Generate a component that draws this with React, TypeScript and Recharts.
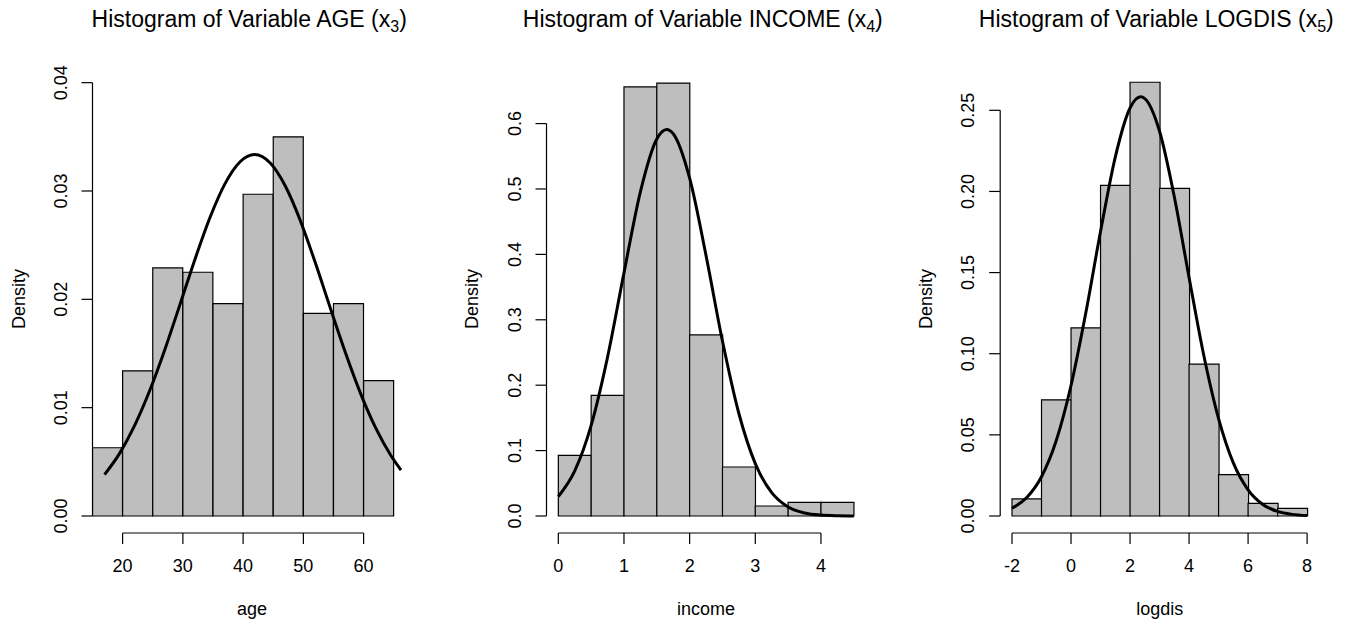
import React from 'react';
import { ComposedChart, Bar, Line, XAxis, YAxis, ReferenceLine } from 'recharts';

const FONT = '"Liberation Sans", Arial, Helvetica, sans-serif';

// ---- AGE (x3) ----
const ageBreaks = [15, 20, 25, 30, 35, 40, 45, 50, 55, 60, 65];
const ageDensity = [0.0063, 0.0134, 0.0229, 0.0225, 0.0196, 0.0297, 0.035, 0.0187, 0.0196, 0.0125];
const ageCurveX = [17, 19.5, 22, 24.5, 27, 29.5, 32, 34.5, 37, 39.5, 41.9, 44.5, 47, 49.5, 52, 54.5, 57, 59.5, 62, 64.5, 66.2];
const ageCurveY = [0.00382, 0.00578, 0.00836, 0.01158, 0.01535, 0.01949, 0.02368, 0.02755, 0.03068, 0.0327, 0.03336, 0.03258, 0.03046, 0.02726, 0.02335, 0.01915, 0.01504, 0.0113, 0.00813, 0.0056, 0.00424];
const ageXTicks = [20, 30, 40, 50, 60];
const ageXTickLabels = ['20', '30', '40', '50', '60'];
const ageYTicks = [0, 0.01, 0.02, 0.03, 0.04];
const ageYTickLabels = ['0.00', '0.01', '0.02', '0.03', '0.04'];

// ---- INCOME (x4) ----
const incomeBreaks = [0, 0.5, 1, 1.5, 2, 2.5, 3, 3.5, 4, 4.5];
const incomeDensity = [0.0928, 0.1845, 0.656, 0.662, 0.2768, 0.0749, 0.0153, 0.0209, 0.0209];
const incomeCurveX = [0, 0.25, 0.5, 0.75, 1, 1.25, 1.5, 1.65, 1.75, 2, 2.25, 2.5, 2.75, 3, 3.25, 3.5, 3.75, 4, 4.25, 4.5];
const incomeCurveY = [0.0298, 0.0689, 0.1385, 0.243, 0.3717, 0.4957, 0.5764, 0.5908, 0.5844, 0.5165, 0.3981, 0.2675, 0.1567, 0.0801, 0.0357, 0.0138, 0.0047, 0.0014, 0.0004, 0.0001];
const incomeXTicks = [0, 1, 2, 3, 4];
const incomeXTickLabels = ['0', '1', '2', '3', '4'];
const incomeYTicks = [0, 0.1, 0.2, 0.3, 0.4, 0.5, 0.6];
const incomeYTickLabels = ['0.0', '0.1', '0.2', '0.3', '0.4', '0.5', '0.6'];

// ---- LOGDIS (x5) ----
const logdisBreaks = [-2, -1, 0, 1, 2, 3, 4, 5, 6, 7, 8];
const logdisDensity = [0.0105, 0.0716, 0.1159, 0.2037, 0.2673, 0.2019, 0.0936, 0.0255, 0.0078, 0.0047];
const logdisCurveX = [-2, -1.5, -1, -0.5, 0, 0.5, 1, 1.5, 2, 2.36, 2.5, 3, 3.5, 4, 4.5, 5, 5.5, 6, 6.5, 7, 7.5, 8];
const logdisCurveY = [0.0048, 0.0114, 0.0242, 0.0465, 0.0804, 0.1251, 0.1753, 0.2212, 0.2514, 0.2583, 0.2572, 0.2371, 0.1967, 0.147, 0.0989, 0.06, 0.0327, 0.0161, 0.0071, 0.0028, 0.001, 0.0003];
const logdisXTicks = [-2, 0, 2, 4, 6, 8];
const logdisXTickLabels = ['-2', '0', '2', '4', '6', '8'];
const logdisYTicks = [0, 0.05, 0.1, 0.15, 0.2, 0.25];
const logdisYTickLabels = ['0.00', '0.05', '0.10', '0.15', '0.20', '0.25'];

type PanelProps = {
  left: number;
  margin: { top: number; right: number; bottom: number; left: number };
  breaks: number[];
  density: number[];
  curveX: number[];
  curveY: number[];
  xDomain: [number, number];
  yDomain: [number, number];
  xTicks: number[];
  xTickLabels: string[];
  yTicks: number[];
  yTickLabels: string[];
};

function Panel(p: PanelProps) {
  const data = p.density.map((d, i) => ({ mid: (p.breaks[i] + p.breaks[i + 1]) / 2, density: d }));
  const curve = p.curveX.map((x, i) => ({ x, y: p.curveY[i] }));
  const xLabel = (v: number) => {
    const i = p.xTicks.findIndex((t) => Math.abs(t - v) < 1e-9);
    return i >= 0 ? p.xTickLabels[i] : String(v);
  };
  const yLabel = (v: number) => {
    const i = p.yTicks.findIndex((t) => Math.abs(t - v) < 1e-9);
    return i >= 0 ? p.yTickLabels[i] : String(v);
  };
  const XTick = (props: any) => (
    <text x={props.x} y={props.y + 12.7} textAnchor="middle" fontSize={18} fontFamily={FONT} fill="#000">
      {xLabel(props.payload.value)}
    </text>
  );
  const YTick = (props: any) => (
    <text
      x={props.x}
      y={props.y}
      transform={`rotate(-90 ${props.x} ${props.y})`}
      textAnchor="middle"
      fontSize={18}
      fontFamily={FONT}
      fill="#000"
    >
      {yLabel(props.payload.value)}
    </text>
  );
  const xFirst = p.xTicks[0];
  const xLast = p.xTicks[p.xTicks.length - 1];
  const yLast = p.yTicks[p.yTicks.length - 1];
  return (
    <div style={{ position: 'absolute', left: p.left, top: 0 }}>
      <ComposedChart width={451} height={622} data={data} margin={p.margin} barCategoryGap={0} barGap={0}>
        <XAxis
          xAxisId="bins"
          dataKey="mid"
          type="number"
          domain={p.xDomain}
          allowDataOverflow
          ticks={p.xTicks}
          interval={0}
          tickSize={11}
          tickMargin={15}
          axisLine={false}
          tickLine={{ stroke: '#000', strokeWidth: 1.2 }}
          tick={XTick}
          height={60}
        />
        <XAxis xAxisId="curve" dataKey="x" type="number" domain={p.xDomain} allowDataOverflow hide />
        <YAxis
          type="number"
          domain={p.yDomain}
          allowDataOverflow
          ticks={p.yTicks}
          interval={0}
          tickSize={11}
          tickMargin={14.7}
          axisLine={false}
          tickLine={{ stroke: '#000', strokeWidth: 1.2 }}
          tick={YTick}
          width={70}
        />
        <Bar xAxisId="bins" dataKey="density" fill="#bebebe" stroke="#000" strokeWidth={1.2} isAnimationActive={false} />
        <Line
          xAxisId="curve"
          data={curve}
          dataKey="y"
          type="monotone"
          stroke="#000"
          strokeWidth={3}
          dot={false}
          activeDot={false}
          isAnimationActive={false}
        />
        <ReferenceLine
          xAxisId="bins"
          segment={[{ x: xFirst, y: p.yDomain[0] }, { x: xLast, y: p.yDomain[0] }]}
          stroke="#000"
          strokeWidth={1.2}
          ifOverflow="visible"
        />
        <ReferenceLine
          xAxisId="bins"
          segment={[{ x: p.xDomain[0], y: 0 }, { x: p.xDomain[0], y: yLast }]}
          stroke="#000"
          strokeWidth={1.2}
          ifOverflow="visible"
        />
      </ComposedChart>
    </div>
  );
}

const titleStyle = { fontSize: 23, fontFamily: FONT, fill: '#000' } as const;
const labelStyle = { fontSize: 18, fontFamily: FONT, fill: '#000' } as const;

export default function App() {
  return (
    <div style={{ position: 'absolute', left: 0, top: 0, width: 1351, height: 622, background: '#fff', overflow: 'hidden' }}>
      <Panel
        left={0}
        margin={{ top: 74, right: 39.9, bottom: 29, left: 22.5 }}
        breaks={ageBreaks}
        density={ageDensity}
        curveX={ageCurveX}
        curveY={ageCurveY}
        xDomain={[15, 67.88]}
        yDomain={[-0.00157, 0.0408]}
        xTicks={ageXTicks}
        xTickLabels={ageXTickLabels}
        yTicks={ageYTicks}
        yTickLabels={ageYTickLabels}
      />
      <Panel
        left={450}
        margin={{ top: 74, right: 35.4, bottom: 29, left: 26.5 }}
        breaks={incomeBreaks}
        density={incomeDensity}
        curveX={incomeCurveX}
        curveY={incomeCurveY}
        xDomain={[-0.18, 4.68]}
        yDomain={[-0.026, 0.6758]}
        xTicks={incomeXTicks}
        xTickLabels={incomeXTickLabels}
        yTicks={incomeYTicks}
        yTickLabels={incomeYTickLabels}
      />
      <Panel
        left={900}
        margin={{ top: 74, right: 32.1, bottom: 29, left: 30.2 }}
        breaks={logdisBreaks}
        density={logdisDensity}
        curveX={logdisCurveX}
        curveY={logdisCurveY}
        xDomain={[-2.4, 8.4]}
        yDomain={[-0.01048, 0.27237]}
        xTicks={logdisXTicks}
        xTickLabels={logdisXTickLabels}
        yTicks={logdisYTicks}
        yTickLabels={logdisYTickLabels}
      />
      <svg width={1351} height={622} style={{ position: 'absolute', left: 0, top: 0, pointerEvents: 'none' }}>
        <text x={249.2} y={27} textAnchor="middle" {...titleStyle}>
          Histogram of Variable AGE (x<tspan fontSize={16} dy={5}>3</tspan>
          <tspan dy={-5}>)</tspan>
        </text>
        <text x={702.8} y={27} textAnchor="middle" {...titleStyle}>
          Histogram of Variable INCOME (x<tspan fontSize={16} dy={5}>4</tspan>
          <tspan dy={-5}>)</tspan>
        </text>
        <text x={1156.3} y={27} textAnchor="middle" {...titleStyle}>
          Histogram of Variable LOGDIS (x<tspan fontSize={16} dy={5}>5</tspan>
          <tspan dy={-5}>)</tspan>
        </text>
        <text x={252} y={615} textAnchor="middle" {...labelStyle}>age</text>
        <text x={706} y={615} textAnchor="middle" {...labelStyle}>income</text>
        <text x={1159.7} y={615} textAnchor="middle" {...labelStyle}>logdis</text>
        <text x={25} y={299} transform="rotate(-90 25 299)" textAnchor="middle" {...labelStyle}>Density</text>
        <text x={478.3} y={299} transform="rotate(-90 478.3 299)" textAnchor="middle" {...labelStyle}>Density</text>
        <text x={931.7} y={299} transform="rotate(-90 931.7 299)" textAnchor="middle" {...labelStyle}>Density</text>
      </svg>
    </div>
  );
}
